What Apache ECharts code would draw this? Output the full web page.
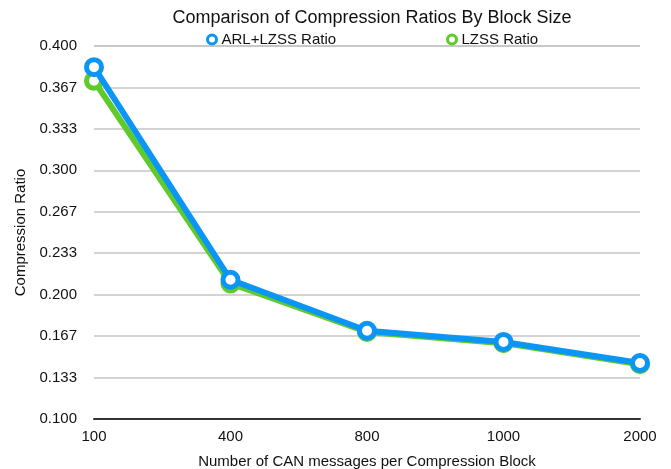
<!DOCTYPE html>
<html>
<head>
<meta charset="utf-8">
<script src="https://cdn.jsdelivr.net/npm/echarts@6/dist/echarts.min.js"></script>
<style>
  html, body { margin: 0; padding: 0; background: #fff; }
  #chart { width: 671px; height: 469px; }
</style>
</head>
<body>
<div id="chart"></div>
<script>
// Block sizes (CAN messages per compression block)
const blockSizes = ['100', '400', '800', '1000', '2000'];
// Compression ratios per block size
const arlLzssRatio = [0.383, 0.212, 0.171, 0.162, 0.145];
const lzssRatio = [0.372, 0.209, 0.170, 0.161, 0.144];

const FONT = '"Liberation Sans", Arial, sans-serif';
const BLUE = '#0b95f6';
const GREEN = '#5ecb2b';

const chart = echarts.init(document.getElementById('chart'));

function lineSeries(name, color, data, z) {
  return {
    name: name,
    type: 'line',
    data: data,
    z: z,
    symbol: 'circle',
    symbolSize: 15,
    lineStyle: { color: color, width: 6 },
    itemStyle: { color: '#fff', borderColor: color, borderWidth: 5 },
    emphasis: { disabled: true },
    animation: false
  };
}

function legendFor(name, left) {
  return {
    data: [{ name: name, icon: 'circle' }],
    left: left, top: 27,
    itemWidth: 9, itemHeight: 9,
    itemGap: 8,
    itemStyle: { borderWidth: 3 },
    textStyle: { fontFamily: FONT, fontSize: 15, color: '#111' }
  };
}

chart.setOption({
  backgroundColor: '#fff',
  title: {
    text: 'Comparison of Compression Ratios By Block Size',
    left: 367,
    top: 4,
    textAlign: 'center',
    textStyle: { fontFamily: FONT, fontSize: 18, fontWeight: 'normal', color: '#111' }
  },
  legend: [
    legendFor('ARL+LZSS Ratio', 201),
    legendFor('LZSS Ratio', 441)
  ],
  grid: { left: 94, right: 31, top: 46, bottom: 50, outerBoundsMode: 'none' },
  xAxis: {
    type: 'category',
    data: blockSizes,
    boundaryGap: false,
    name: 'Number of CAN messages per Compression Block',
    nameLocation: 'middle',
    nameGap: 35,
    nameTextStyle: { fontFamily: FONT, fontSize: 15, color: '#111' },
    axisLine: { lineStyle: { color: '#333', width: 2 } },
    axisTick: { show: false },
    axisLabel: { fontFamily: FONT, fontSize: 15, color: '#111', margin: 10 }
  },
  yAxis: {
    type: 'value',
    min: 0.1,
    max: 0.4,
    interval: 1 / 30,
    name: 'Compression Ratio',
    nameLocation: 'middle',
    nameGap: 61,
    nameTextStyle: { fontFamily: FONT, fontSize: 15, color: '#111' },
    axisLine: { show: false },
    axisTick: { show: false },
    axisLabel: {
      fontFamily: FONT, fontSize: 15, color: '#111', margin: 17,
      formatter: v => v.toFixed(3)
    },
    splitLine: { lineStyle: { color: '#c4c4c4', width: 1.5 } }
  },
  series: [
    lineSeries('LZSS Ratio', GREEN, lzssRatio, 2),
    lineSeries('ARL+LZSS Ratio', BLUE, arlLzssRatio, 3)
  ]
});
</script>
</body>
</html>
